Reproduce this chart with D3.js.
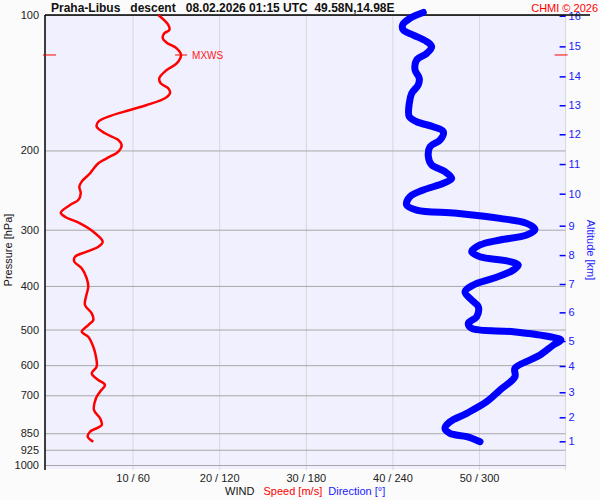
<!DOCTYPE html>
<html>
<head>
<meta charset="utf-8">
<script src="https://cdn.jsdelivr.net/npm/d3@7"></script>
<style>
  body { margin: 0; background: #fbfbfb; }
  svg { display: block; font-family: "Liberation Sans", Arial, sans-serif; }
</style>
</head>
<body>
<script>
var width = 600
var height = 500

// wind speed profile [hPa] / [m/s]
var speedPressure = [100.0, 105.2, 108.0, 109.8, 112.6, 115.2, 118.6, 122.7, 128.1, 132.5,
    138.2, 141.8, 145.5, 149.3, 153.1, 158.5, 162.6, 167.7, 172.7, 177.1,
    183.2, 189.6, 194.5, 201.2, 208.2, 213.6, 224.8, 234.6, 240.7, 249.0,
    257.7, 264.4, 275.0, 280.7, 290.4, 303.1, 319.0, 327.3, 335.7, 344.4,
    353.3, 365.5, 384.7, 401.6, 422.7, 441.0, 460.2, 476.3, 488.6, 505.6,
    518.7, 545.9, 574.6, 604.7, 625.6, 647.4, 664.1, 687.3, 710.9, 754.6,
    787.4, 815.0, 843.4, 865.3, 887.7]
var speedValues = [12.97, 14.12, 14.24, 13.66, 13.48, 13.94, 15.09, 15.59, 15.09, 13.94,
    13.08, 13.24, 14.12, 14.32, 13.74, 11.63, 9.70, 7.39, 6.04, 5.85,
    6.81, 8.35, 8.74, 8.35, 7.01, 6.04, 5.08, 4.12, 3.85, 4.01,
    3.73, 2.77, 1.70, 2.19, 3.93, 5.46, 6.55, 6.04, 4.70, 3.35,
    3.27, 4.12, 4.70, 4.88, 4.62, 4.50, 5.28, 5.46, 4.88, 4.12,
    4.88, 5.46, 5.77, 5.85, 5.28, 6.04, 6.81, 6.24, 5.77, 5.54,
    6.24, 6.43, 5.08, 4.82, 5.46]

// wind direction profile [hPa] / [deg]
var dirPressure = [98.7, 101.7, 105.2, 108.0, 110.8, 114.6, 117.6, 121.7, 125.9, 132.5,
    138.2, 143.0, 149.3, 157.1, 168.3, 172.7, 177.1, 181.7, 189.6, 196.2,
    206.5, 215.4, 222.9, 230.7, 236.6, 244.9, 253.4, 264.4, 271.3, 275.9,
    283.1, 290.4, 299.5, 308.3, 316.2, 324.4, 335.7, 344.4, 353.3, 359.4,
    368.7, 384.7, 398.1, 412.1, 429.9, 444.8, 468.2, 484.3, 496.9, 505.6,
    518.7, 527.5, 541.2, 569.6, 584.3, 609.8, 636.5, 681.3, 723.3, 767.6,
    801.4, 828.9, 850.5, 865.3, 887.7]
var dirValues = [261.4, 252.2, 247.1, 247.6, 254.5, 263.8, 267.2, 263.8, 256.8, 255.7,
    258.6, 257.9, 253.4, 251.7, 251.7, 256.8, 268.3, 275.3, 273.0, 266.1,
    264.9, 267.2, 276.4, 281.1, 275.3, 261.4, 252.2, 249.9, 256.8, 284.5,
    314.5, 333.0, 338.8, 333.0, 314.5, 300.7, 294.9, 300.7, 321.5, 327.2,
    323.8, 309.9, 296.1, 290.3, 294.9, 299.5, 298.4, 292.6, 294.9, 323.8,
    349.2, 356.8, 351.5, 342.3, 335.3, 324.9, 324.9, 314.5, 305.3, 291.5,
    279.9, 276.4, 279.9, 291.5, 300.7]

var pressureTicks = [100, 200, 300, 400, 500, 600, 700, 850, 925, 1000]
var speedTicks = [10, 20, 30, 40, 50]
var altitudeKm = [1, 2, 3, 4, 5, 6, 7, 8, 9, 10, 11, 12, 13, 14, 15, 16]
var altitudePressure = [885.9, 783.4, 689.3, 602.6, 530.3, 457.9, 396.1, 341.6,
    293.9, 249.5, 214.4, 184.1, 158.7, 136.9, 117.4, 100.4]
var maxWind = { p: 122.7, speed: 15.6 }

var plotLeft = 45, plotRight = 565.6, plotTop = 15, plotBottom = 465

var y = d3.scaleLog().domain([100, 1000]).range([plotTop, plotBottom])
var x = d3.scaleLinear().domain([0, 60]).range([46, plotRight])
var xDir = d3.scaleLinear().domain([0, 360]).range([46, plotRight])

var svg = d3.select('body').append('svg')
    .attr('width', width)
    .attr('height', height)

svg.append('rect')
    .attr('x', plotLeft).attr('y', plotTop)
    .attr('width', plotRight - plotLeft).attr('height', plotBottom + 4 - plotTop)
    .attr('fill', '#f0f0fe')

// vertical grid + bottom labels
var xAxis = svg.append('g')
    .attr('transform', `translate(0,${plotBottom + 5})`)
    .call(d3.axisBottom(x)
        .tickValues(speedTicks)
        .tickFormat(d => `${d} / ${d * 6}`)
        .tickSize(-(plotBottom + 5 - plotTop))
        .tickPadding(4))
xAxis.select('.domain').remove()
xAxis.selectAll('line').attr('stroke', '#d8d8d8')
xAxis.selectAll('text').attr('fill', '#222').style('font-size', '11px')

svg.append('line')
    .attr('x1', plotRight).attr('x2', plotRight)
    .attr('y1', plotTop).attr('y2', plotBottom + 5)
    .attr('stroke', '#d8d8d8')

// horizontal grid + pressure labels
var yAxis = svg.append('g')
    .attr('transform', `translate(${plotLeft},0)`)
    .call(d3.axisLeft(y)
        .tickValues(pressureTicks)
        .tickFormat(d3.format('d'))
        .tickSize(-(plotRight - plotLeft))
        .tickPadding(6))
yAxis.select('.domain').remove()
yAxis.selectAll('line').attr('stroke', '#a8a8a8')
yAxis.selectAll('text').attr('fill', '#222').style('font-size', '11px')

// altitude axis
var altAxis = svg.append('g')
    .attr('transform', `translate(${plotRight - 6},0)`)
    .call(d3.axisRight(y)
        .tickValues(altitudePressure)
        .tickFormat((d, i) => altitudeKm[i])
        .tickSize(6)
        .tickPadding(3))
altAxis.select('.domain').remove()
altAxis.selectAll('line').attr('stroke', '#0000ff').attr('stroke-width', 1.5)
altAxis.selectAll('text').attr('fill', '#2020ff').style('font-size', '11px')

// frame
svg.append('line')
    .attr('x1', plotLeft).attr('x2', plotLeft)
    .attr('y1', plotTop).attr('y2', plotBottom + 5)
    .attr('stroke', '#000').attr('stroke-width', 1.5)
svg.append('line')
    .attr('x1', plotLeft).attr('x2', 590)
    .attr('y1', plotTop).attr('y2', plotTop)
    .attr('stroke', '#000').attr('stroke-width', 1.5)

// profiles
var dirData = dirPressure.map((p, i) => ({ p: p, v: dirValues[i] }))
var speedData = speedPressure.map((p, i) => ({ p: p, v: speedValues[i] }))

svg.append('path')
    .datum(dirData)
    .attr('fill', 'none')
    .attr('stroke', '#0000ff')
    .attr('stroke-width', 7)
    .attr('stroke-linejoin', 'round')
    .attr('stroke-linecap', 'round')
    .attr('d', d3.line().x(d => xDir(d.v)).y(d => y(d.p)).curve(d3.curveCatmullRom))

svg.append('path')
    .datum(speedData)
    .attr('fill', 'none')
    .attr('stroke', '#ff0000')
    .attr('stroke-width', 2.5)
    .attr('stroke-linejoin', 'round')
    .attr('d', d3.line().x(d => x(d.v)).y(d => y(d.p)).curve(d3.curveCatmullRom))

// max wind marker
var mwY = y(maxWind.p)
var mwX = x(maxWind.speed)
var mwMarks = [[plotLeft - 2, plotLeft + 11], [mwX - 6, mwX + 6], [plotRight - 11, plotRight + 2]]
svg.selectAll('line.mxws')
    .data(mwMarks)
    .enter().append('line')
    .attr('class', 'mxws')
    .attr('x1', d => d[0]).attr('x2', d => d[1])
    .attr('y1', mwY).attr('y2', mwY)
    .attr('stroke', '#ff0000')
svg.append('text')
    .attr('x', mwX + 11).attr('y', mwY + 4)
    .attr('fill', '#ff2020')
    .style('font-size', '10px')
    .text('MXWS')

// texts
svg.append('text')
    .attr('x', 51).attr('y', 12)
    .style('font-size', '12px')
    .style('font-weight', 'bold')
    .style('white-space', 'pre')
    .attr('fill', '#111')
    .text('Praha-Libus   descent   08.02.2026 01:15 UTC  49.58N,14.98E')

svg.append('text')
    .attr('x', 598).attr('y', 12)
    .attr('text-anchor', 'end')
    .attr('fill', '#ff0000')
    .style('font-size', '11px')
    .text('CHMI \u00a9 2026')

svg.append('text')
    .attr('transform', 'translate(12,250) rotate(-90)')
    .attr('text-anchor', 'middle')
    .attr('fill', '#111')
    .style('font-size', '11px')
    .text('Pressure [hPa]')

svg.append('text')
    .attr('transform', 'translate(587,250) rotate(90)')
    .attr('text-anchor', 'middle')
    .attr('fill', '#2020ff')
    .style('font-size', '11px')
    .text('Altitude [km]')

var legend = svg.append('text')
    .attr('x', 225).attr('y', 495)
    .style('font-size', '11px')
    .style('white-space', 'pre')
legend.append('tspan').attr('fill', '#111').text('WIND   ')
legend.append('tspan').attr('fill', '#ff0000').text('Speed [m/s]  ')
legend.append('tspan').attr('fill', '#2020ff').text('Direction [°]')
</script>
</body>
</html>
